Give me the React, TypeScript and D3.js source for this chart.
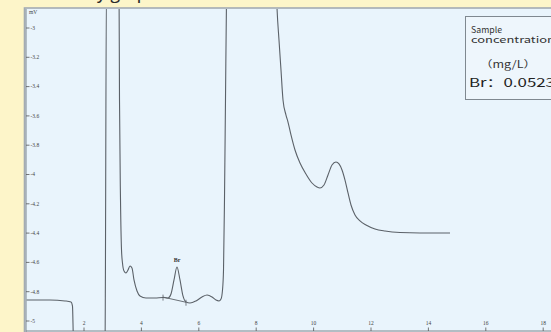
import React from 'react';
import * as d3 from 'd3';

// chromatogram trace, retention time (min) vs signal (mV)
const traceTime = [
  0, 0.815, 1.338, 1.547, 1.599, 1.634, 2.2, 2.732, 2.784, 2.801, 3.0, 3.219,
  3.237, 3.272, 3.307, 3.341, 3.394, 3.463, 3.533, 3.603, 3.672, 3.742, 3.847, 3.951,
  4.16, 4.474, 4.753, 4.93, 5.031, 5.136, 5.24, 5.345, 5.449, 5.554, 5.693, 5.902,
  6.111, 6.286, 6.46, 6.599, 6.704, 6.774, 6.826, 6.861, 6.895, 6.93, 6.965, 6.983,
  7.8, 8.69, 8.725, 8.794, 8.864, 8.934, 9.038, 9.108, 9.212, 9.352, 9.526, 9.735,
  9.944, 10.118, 10.223, 10.362, 10.502, 10.641, 10.78, 10.885, 10.99, 11.094, 11.199,
  11.303, 11.443, 11.617, 11.826, 12.139, 12.488, 13.01, 13.707, 14.753,
];
const traceMv = [
  -4.857, -4.857, -4.863, -4.87, -4.898, -5.13, -5.3, -5.164, -2.67, -2.672, -2.3, -2.672,
  -3.491, -4.174, -4.515, -4.604, -4.659, -4.672, -4.652, -4.625, -4.638, -4.72, -4.795, -4.829,
  -4.843, -4.843, -4.84, -4.843, -4.816, -4.72, -4.631, -4.72, -4.829, -4.87, -4.877, -4.863,
  -4.836, -4.823, -4.836, -4.857, -4.863, -4.85, -4.788, -4.652, -4.174, -3.491, -2.809, -2.672,
  -2.3, -2.672, -2.863, -3.082, -3.287, -3.491, -3.594, -3.642, -3.73, -3.833, -3.922, -3.997,
  -4.058, -4.085, -4.092, -4.072, -4.003, -3.935, -3.915, -3.928, -3.969, -4.038, -4.126,
  -4.208, -4.276, -4.317, -4.345, -4.372, -4.386, -4.396, -4.399, -4.399,
];

// integration baseline under the Br peak
const baselineTime = [4.753, 5.554];
const baselineMv = [-4.837, -4.872];
const peakTime = 5.24;
const peakMv = -4.631;
const peakLabel = 'Br';

const yTicks = [-3, -3.2, -3.4, -3.6, -3.8, -4, -4.2, -4.4, -4.6, -4.8, -5];
const xTicks = [2, 4, 6, 8, 10, 12, 14, 16, 18];
const yUnit = 'mV';

const titleText = 'Assay graph';
const legendTitle = ['Sample', 'concentration'];
const legendUnit = '（mg/L）';
const legendValue = 'Br：0.0523';

const W = 551;
const H = 332;

export default function App() {
  const x = d3.scaleLinear().domain([0, 18]).range([26.6, 26.6 + 18 * 28.7]);
  const y = d3.scaleLinear().domain([-5, -3]).range([321, 28]);

  const line = d3
    .line<number>()
    .x((d, i) => x(traceTime[i]))
    .y((d) => y(d))
    .curve(d3.curveMonotoneX);

  const tickFont = 'Liberation Serif, DejaVu Serif, serif';
  const boxFont = '"Noto Sans CJK SC", "Noto Sans", sans-serif';

  return (
    <svg
      width={W}
      height={H}
      style={{ position: 'absolute', left: 0, top: 0, display: 'block' }}
    >
      <rect x={0} y={0} width={W} height={H} fill="#fdf5c9" />
      {/* title, mostly above the visible area */}
      <text x={58} y={-1} fontSize={18} fontFamily={boxFont} fill="#2b2b2b">
        {titleText}
      </text>

      {/* plot panel */}
      <rect x={24.5} y={8} width={540} height={340} fill="#e9f4fc" stroke="#a3abb2" strokeWidth={1.6} />

      <defs>
        <clipPath id="plot-clip">
          <rect x={26} y={9} width={530} height={322} />
        </clipPath>
      </defs>

      {/* y axis */}
      <line x1={26} x2={26} y1={9} y2={H} stroke="#7d858c" strokeWidth={1} />
      <text x={29} y={14} fontSize={5.5} fontFamily={tickFont} fill="#444">
        {yUnit}
      </text>
      {yTicks.map((t) => (
        <g key={t} transform={`translate(26,${y(t)})`}>
          <line x1={0} x2={3.5} stroke="#555" strokeWidth={0.8} />
          <text x={4.5} dy="0.33em" fontSize={5.5} fontFamily={tickFont} fill="#444">
            {String(t)}
          </text>
        </g>
      ))}

      {/* x axis */}
      <line x1={26} x2={W} y1={331} y2={331} stroke="#7d858c" strokeWidth={1.2} />
      {xTicks.map((t) => (
        <g key={t} transform={`translate(${x(t)},331)`}>
          <line y1={0} y2={-3.5} stroke="#555" strokeWidth={0.8} />
          <text y={-6} textAnchor="middle" fontSize={5.5} fontFamily={tickFont} fill="#444">
            {String(t)}
          </text>
        </g>
      ))}

      {/* trace */}
      <g clipPath="url(#plot-clip)">
        <path d={line(traceMv) || ''} fill="none" stroke="#5b6168" strokeWidth={1.1} />
        <line
          x1={x(baselineTime[0])}
          y1={y(baselineMv[0])}
          x2={x(baselineTime[1])}
          y2={y(baselineMv[1])}
          stroke="#5b6168"
          strokeWidth={0.9}
        />
        {baselineTime.map((t, i) => (
          <line
            key={t}
            x1={x(t)}
            x2={x(t)}
            y1={y(baselineMv[i]) - 2.5}
            y2={y(baselineMv[i]) + 3.5}
            stroke="#5b6168"
            strokeWidth={0.8}
          />
        ))}
        <text
          x={x(peakTime)}
          y={y(peakMv) - 5}
          textAnchor="middle"
          fontSize={6}
          fontWeight="bold"
          fontFamily={tickFont}
          fill="#333"
        >
          {peakLabel}
        </text>
      </g>

      {/* concentration box */}
      <rect x={465.5} y={16.5} width={100} height={83} fill="#eef6fc" stroke="#7f8890" strokeWidth={1} />
      <text x={471} y={32.5} fontSize={8.5} fontFamily={boxFont} fill="#333" textLength={31} lengthAdjust="spacingAndGlyphs">
        {legendTitle[0]}
      </text>
      <text x={471} y={42.5} fontSize={9} fontFamily={boxFont} fill="#333" textLength={84} lengthAdjust="spacingAndGlyphs">
        {legendTitle[1]}
      </text>
      <text x={480} y={68} fontSize={10} fontFamily={boxFont} fill="#333" textLength={56} lengthAdjust="spacingAndGlyphs">
        {legendUnit}
      </text>
      <text x={469} y={87} fontSize={11.5} fontFamily={boxFont} fill="#222" textLength={86} lengthAdjust="spacingAndGlyphs">
        {legendValue}
      </text>
    </svg>
  );
}
